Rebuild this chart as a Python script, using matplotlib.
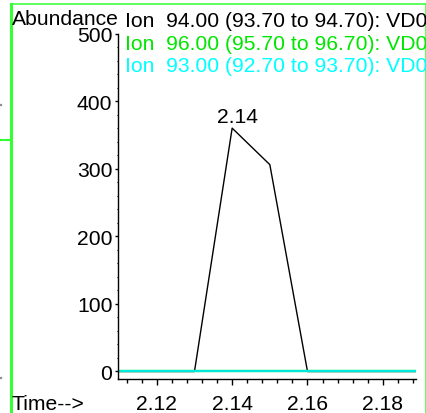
import matplotlib
matplotlib.use("Agg")
import matplotlib.pyplot as plt
import numpy as np
from matplotlib.lines import Line2D
from matplotlib.patches import Rectangle

plt.rcParams['font.family'] = ['Liberation Sans', 'DejaVu Sans']

# retention time (min) and abundances for the three ion traces
times = [2.11, 2.12, 2.13, 2.14, 2.15, 2.16, 2.17, 2.18, 2.19]
ion_94 = [0, 0, 0, 360, 306, 0, 0, 0, 0]
ion_96 = [0, 0, 0, 0, 0, 0, 0, 0, 0]
ion_93 = [0, 0, 0, 0, 0, 0, 0, 0, 0]

ion_labels = ["Ion  94.00 (93.70 to 94.70): VD0",
              "Ion  96.00 (95.70 to 96.70): VD0",
              "Ion  93.00 (92.70 to 93.70): VD0"]
ion_colors = ['black', '#00e600', '#00ffff']

peak_time = 2.14
peak_value = 360

x_major = [2.12, 2.14, 2.16, 2.18]
y_major = [0, 100, 200, 300, 400, 500]

FS = 15.2
W, H = 427, 414
fig = plt.figure(figsize=(W / 100, H / 100), dpi=100)

ax = fig.add_axes([118 / W, 1 - 380 / H, 298 / W, (380 - 34.5) / H])
ax.plot(times, ion_94, color='black', lw=1.0)
ax.plot(times, ion_96, color='#00e600', lw=1.6)
ax.plot(times, ion_93, color='#00e8dc', lw=1.6)
ax.set_xlim(2.1097, 2.1888)
ax.set_ylim(-11.1, 500)

ax.annotate("{:.2f}".format(peak_time), (peak_time, peak_value),
            xytext=(5, 6), textcoords='offset pixels',
            ha='center', va='baseline', fontsize=FS)

for side in ['top', 'right']:
    ax.spines[side].set_visible(False)
ax.spines['left'].set_linewidth(1.0)
ax.spines['bottom'].set_linewidth(1.0)

ax.set_xticks(x_major)
ax.set_xticklabels(["{:.2f}".format(v) for v in x_major])
ax.set_xticks(np.arange(2.112, 2.1889, 0.004), minor=True)
ax.set_yticks(y_major)
ax.set_yticks(np.arange(0, 501, 20), minor=True)

ax.tick_params(axis='x', which='major', length=4.5, width=1, pad=6,
               labelsize=FS, direction='out')
ax.tick_params(axis='x', which='minor', length=2.8, width=1, direction='out')
ax.tick_params(axis='y', which='major', length=2, width=1, pad=2,
               labelsize=FS, direction='out')
ax.tick_params(axis='y', which='minor', length=1, width=0.8, direction='out')

# header texts
fig.text(12 / W, 1 - 25 / H, "Abundance", fontsize=FS, va='baseline', ha='left')
baselines = [26.7, 50, 71.7]
for label, color, yb in zip(ion_labels, ion_colors, baselines):
    fig.text(125 / W, 1 - yb / H, label, fontsize=FS, color=color,
             va='baseline', ha='left')
fig.text(12 / W, 1 - 410 / H, "Time-->", fontsize=FS, va='baseline', ha='left')

# green window frame
frame_color = '#33ff33'
fig.add_artist(Line2D([11.5 / W, 11.5 / W], [0, 1 - 5 / H],
                      color=frame_color, lw=2.2, transform=fig.transFigure))
fig.add_artist(Line2D([11.5 / W, 426 / W], [1 - 5 / H, 1 - 5 / H],
                      color=frame_color, lw=1.1, transform=fig.transFigure))
fig.add_artist(Line2D([426 / W, 426 / W], [0, 1 - 5 / H],
                      color=frame_color, lw=1.1, transform=fig.transFigure))
fig.add_artist(Line2D([0, 11 / W], [1 - 141 / H, 1 - 141 / H],
                      color=frame_color, lw=1.5, transform=fig.transFigure))
for yy in [105, 378]:
    fig.add_artist(Rectangle((0, 1 - (yy + 0.5) / H), 1.2 / W, 1 / H,
                             color='#888888', transform=fig.transFigure))

fig.savefig("out.png", dpi=100)
